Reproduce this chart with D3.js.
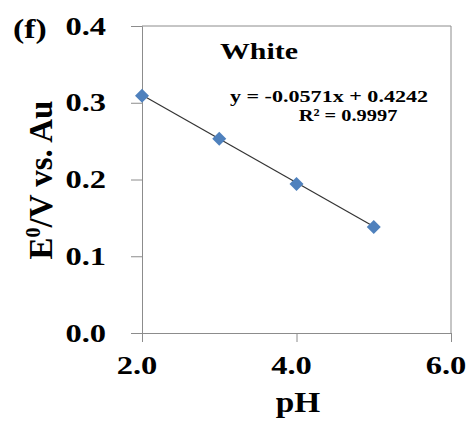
<!DOCTYPE html>
<html>
<head>
<meta charset="utf-8">
<script src="https://cdn.jsdelivr.net/npm/d3@7"></script>
<style>
  body { margin: 0; background: #fff; }
  text { font-family: "Liberation Serif", "Times New Roman", serif; font-weight: bold; fill: #000; }
</style>
</head>
<body>
<div id="chart"></div>
<script>
// data
var phValues = [2, 3, 4, 5]
var potentials = [0.309, 0.253, 0.194, 0.138]
var xTicks = [2, 4, 6]
var yTicks = [0, 0.1, 0.2, 0.3, 0.4]
var fitSlope = -0.0571
var fitIntercept = 0.4242
var eqLabel = "y = -0.0571x + 0.4242"
var r2Label = "R² = 0.9997"

var svgSize = { width: 470, height: 423 }
var margin = { top: 26, left: 142, right: 19, bottom: 90 }
var chartSize = {
    width: svgSize.width - margin.left - margin.right,
    height: svgSize.height - margin.top - margin.bottom
}

var svg = d3.select("#chart").append("svg")
    .attr("width", svgSize.width)
    .attr("height", svgSize.height)

var frame = svg.append("g")
    .attr("transform", `translate(${margin.left},${margin.top})`)

var xScale = d3.scaleLinear().domain([2, 6]).range([0, chartSize.width])
var yScale = d3.scaleLinear().domain([0, 0.4]).range([chartSize.height, 0])

var axisColor = "#8c8c8c"

// top and right border
frame.append("path")
    .attr("d", `M0,0H${chartSize.width}V${chartSize.height}`)
    .attr("fill", "none").attr("stroke", axisColor).attr("stroke-width", 1)

var leftAxis = d3.axisLeft(yScale).tickValues(yTicks).tickSize(11).tickFormat("")
var bottomAxis = d3.axisBottom(xScale).tickValues(xTicks).tickSize(9).tickFormat("")

var yAx = frame.append("g").call(leftAxis)
var xAx = frame.append("g").attr("transform", `translate(0,${chartSize.height})`).call(bottomAxis)
;[yAx, xAx].forEach(g => {
    g.selectAll("path, line").attr("stroke", axisColor)
})

// tick labels (stretched wide like the original)
var tickFont = 25, stretch = 1.3
yTicks.forEach(v => {
    frame.append("text")
        .attr("transform", `translate(-36,${yScale(v) + 8.5}) scale(${stretch},1)`)
        .attr("text-anchor", "end")
        .style("font-size", tickFont + "px")
        .text(d3.format(".1f")(v))
})
xTicks.forEach(v => {
    frame.append("text")
        .attr("transform", `translate(${xScale(v) - 5},${chartSize.height + 41}) scale(${stretch},1)`)
        .attr("text-anchor", "middle")
        .style("font-size", tickFont + "px")
        .text(d3.format(".1f")(v))
})

svg.append("text")
    .attr("transform", `translate(13,38) scale(1.25,1)`)
    .style("font-size", "27px")
    .text("(f)")

// axis titles
svg.append("text")
    .attr("transform", `translate(298,412) scale(1.15,1)`)
    .attr("text-anchor", "middle")
    .style("font-size", "29px")
    .text("pH")

var yTitle = svg.append("text")
    .attr("transform", "translate(52,180) rotate(-90)")
    .attr("text-anchor", "middle")
    .style("font-size", "33px")
yTitle.append("tspan").text("E")
yTitle.append("tspan").attr("dy", -12).style("font-size", "20px").text("0")
yTitle.append("tspan").attr("dy", 12).text("/V vs. Au")

// series label and fit text
svg.append("text")
    .attr("transform", `translate(259,59) scale(1.3,1)`)
    .attr("text-anchor", "middle")
    .style("font-size", "23px")
    .text("White")

svg.append("text")
    .attr("transform", `translate(329,102) scale(1.3,1)`)
    .attr("text-anchor", "middle")
    .style("font-size", "17px")
    .text(eqLabel)
svg.append("text")
    .attr("transform", `translate(348,121) scale(1.2,1)`)
    .attr("text-anchor", "middle")
    .style("font-size", "17px")
    .text(r2Label)

// linear trendline
var fitX = [d3.min(phValues), d3.max(phValues)]
frame.append("line")
    .attr("x1", xScale(fitX[0])).attr("y1", yScale(fitSlope * fitX[0] + fitIntercept))
    .attr("x2", xScale(fitX[1])).attr("y2", yScale(fitSlope * fitX[1] + fitIntercept))
    .attr("stroke", "#333").attr("stroke-width", 1.2)

// markers
var diamond = d3.symbol().type(d3.symbolSquare).size(98)
frame.selectAll(".pt").data(phValues).enter().append("path")
    .attr("class", "pt")
    .attr("d", diamond)
    .attr("transform", (d, i) => `translate(${xScale(d)},${yScale(potentials[i])}) rotate(45)`)
    .attr("fill", "#4f81bd")
</script>
</body>
</html>
